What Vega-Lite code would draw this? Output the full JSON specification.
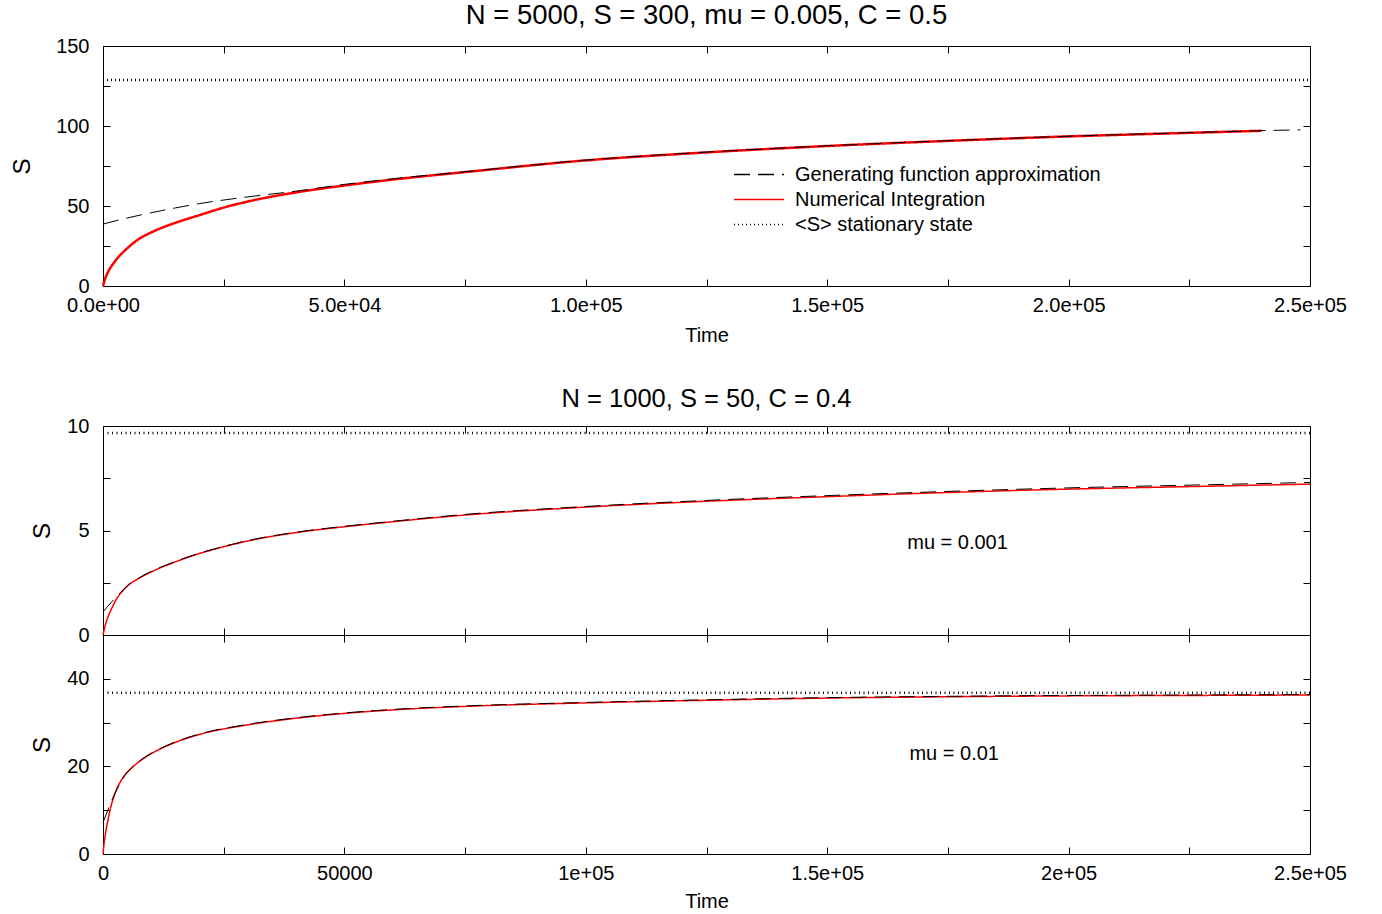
{
"$schema": "https://vega.github.io/schema/vega-lite/v6.json",
"padding": {"left": 9, "top": 1, "right": 10, "bottom": 0},
"background": "white",
"config": {
  "font": "Liberation Sans",
  "view": {"stroke": "#000000", "strokeWidth": 1},
  "axis": {"domain": false, "grid": false, "ticks": true, "tickColor": "#000000", "tickSize": -7, "tickWidth": 1, "labelFont": "Liberation Sans", "labelFontSize": 20, "labelColor": "#000000", "labelFlush": false, "labelOverlap": false, "labelBound": false, "titleFont": "Liberation Sans", "titleFontSize": 20, "titleFontWeight": "normal", "titleColor": "#000000"},
  "title": {"font": "Liberation Sans", "fontSize": 25, "fontWeight": "normal", "color": "#000000", "baseline": "alphabetic"},
  "legend": {"labelFont": "Liberation Sans", "labelFontSize": 20, "labelColor": "#000000"}
},
"datasets": {
  "curves": [
    {"p":"A","series":"Numerical Integration","t":0,"S":0},
    {"p":"A","series":"Numerical Integration","t":500,"S":5},
    {"p":"A","series":"Numerical Integration","t":1000,"S":8.5},
    {"p":"A","series":"Numerical Integration","t":2500,"S":15.5},
    {"p":"A","series":"Numerical Integration","t":5000,"S":23.5},
    {"p":"A","series":"Numerical Integration","t":7500,"S":29.5},
    {"p":"A","series":"Numerical Integration","t":10000,"S":33.5},
    {"p":"A","series":"Numerical Integration","t":15000,"S":39.5},
    {"p":"A","series":"Numerical Integration","t":20000,"S":44.3},
    {"p":"A","series":"Numerical Integration","t":25000,"S":49},
    {"p":"A","series":"Numerical Integration","t":30000,"S":52.8},
    {"p":"A","series":"Numerical Integration","t":40000,"S":58.5},
    {"p":"A","series":"Numerical Integration","t":50000,"S":62.8},
    {"p":"A","series":"Numerical Integration","t":60000,"S":66.5},
    {"p":"A","series":"Numerical Integration","t":75000,"S":71.2},
    {"p":"A","series":"Numerical Integration","t":100000,"S":78.5},
    {"p":"A","series":"Numerical Integration","t":125000,"S":83.5},
    {"p":"A","series":"Numerical Integration","t":150000,"S":87.5},
    {"p":"A","series":"Numerical Integration","t":175000,"S":90.7},
    {"p":"A","series":"Numerical Integration","t":200000,"S":93.5},
    {"p":"A","series":"Numerical Integration","t":220000,"S":95.3},
    {"p":"A","series":"Numerical Integration","t":240000,"S":97},
    {"p":"A","series":"Generating function approximation","t":0,"S":38.7},
    {"p":"A","series":"Generating function approximation","t":5000,"S":42.5},
    {"p":"A","series":"Generating function approximation","t":10000,"S":45.8},
    {"p":"A","series":"Generating function approximation","t":15000,"S":48.8},
    {"p":"A","series":"Generating function approximation","t":20000,"S":51.5},
    {"p":"A","series":"Generating function approximation","t":30000,"S":55.7},
    {"p":"A","series":"Generating function approximation","t":40000,"S":59.3},
    {"p":"A","series":"Generating function approximation","t":50000,"S":63.5},
    {"p":"A","series":"Generating function approximation","t":60000,"S":67},
    {"p":"A","series":"Generating function approximation","t":75000,"S":71.4},
    {"p":"A","series":"Generating function approximation","t":100000,"S":78.7},
    {"p":"A","series":"Generating function approximation","t":125000,"S":83.7},
    {"p":"A","series":"Generating function approximation","t":150000,"S":87.6},
    {"p":"A","series":"Generating function approximation","t":175000,"S":90.8},
    {"p":"A","series":"Generating function approximation","t":200000,"S":93.6},
    {"p":"A","series":"Generating function approximation","t":220000,"S":95.4},
    {"p":"A","series":"Generating function approximation","t":240000,"S":97.1},
    {"p":"A","series":"Generating function approximation","t":248000,"S":97.6},
    {"p":"A","series":"<S> stationary state","t":0,"S":128.7},
    {"p":"A","series":"<S> stationary state","t":250000,"S":128.7},

    {"p":"B","series":"Numerical Integration","t":0,"S":0},
    {"p":"B","series":"Numerical Integration","t":500,"S":0.5},
    {"p":"B","series":"Numerical Integration","t":1000,"S":0.85},
    {"p":"B","series":"Numerical Integration","t":1500,"S":1.12},
    {"p":"B","series":"Numerical Integration","t":2500,"S":1.6},
    {"p":"B","series":"Numerical Integration","t":5000,"S":2.33},
    {"p":"B","series":"Numerical Integration","t":7500,"S":2.72},
    {"p":"B","series":"Numerical Integration","t":10000,"S":3.02},
    {"p":"B","series":"Numerical Integration","t":15000,"S":3.5},
    {"p":"B","series":"Numerical Integration","t":20000,"S":3.9},
    {"p":"B","series":"Numerical Integration","t":25000,"S":4.22},
    {"p":"B","series":"Numerical Integration","t":30000,"S":4.5},
    {"p":"B","series":"Numerical Integration","t":40000,"S":4.9},
    {"p":"B","series":"Numerical Integration","t":50000,"S":5.18},
    {"p":"B","series":"Numerical Integration","t":60000,"S":5.42},
    {"p":"B","series":"Numerical Integration","t":75000,"S":5.74},
    {"p":"B","series":"Numerical Integration","t":100000,"S":6.12},
    {"p":"B","series":"Numerical Integration","t":125000,"S":6.4},
    {"p":"B","series":"Numerical Integration","t":150000,"S":6.62},
    {"p":"B","series":"Numerical Integration","t":175000,"S":6.82},
    {"p":"B","series":"Numerical Integration","t":200000,"S":6.98},
    {"p":"B","series":"Numerical Integration","t":225000,"S":7.1},
    {"p":"B","series":"Numerical Integration","t":250000,"S":7.22},
    {"p":"B","series":"Generating function approximation","t":0,"S":1.1},
    {"p":"B","series":"Generating function approximation","t":1000,"S":1.38},
    {"p":"B","series":"Generating function approximation","t":2000,"S":1.63},
    {"p":"B","series":"Generating function approximation","t":3000,"S":1.88},
    {"p":"B","series":"Generating function approximation","t":5000,"S":2.35},
    {"p":"B","series":"Generating function approximation","t":7500,"S":2.74},
    {"p":"B","series":"Generating function approximation","t":10000,"S":3.04},
    {"p":"B","series":"Generating function approximation","t":15000,"S":3.52},
    {"p":"B","series":"Generating function approximation","t":20000,"S":3.92},
    {"p":"B","series":"Generating function approximation","t":25000,"S":4.24},
    {"p":"B","series":"Generating function approximation","t":30000,"S":4.52},
    {"p":"B","series":"Generating function approximation","t":40000,"S":4.92},
    {"p":"B","series":"Generating function approximation","t":50000,"S":5.2},
    {"p":"B","series":"Generating function approximation","t":60000,"S":5.44},
    {"p":"B","series":"Generating function approximation","t":75000,"S":5.77},
    {"p":"B","series":"Generating function approximation","t":100000,"S":6.15},
    {"p":"B","series":"Generating function approximation","t":125000,"S":6.44},
    {"p":"B","series":"Generating function approximation","t":150000,"S":6.67},
    {"p":"B","series":"Generating function approximation","t":175000,"S":6.87},
    {"p":"B","series":"Generating function approximation","t":200000,"S":7.04},
    {"p":"B","series":"Generating function approximation","t":225000,"S":7.17},
    {"p":"B","series":"Generating function approximation","t":250000,"S":7.3},
    {"p":"B","series":"<S> stationary state","t":0,"S":9.67},
    {"p":"B","series":"<S> stationary state","t":250000,"S":9.67},

    {"p":"C","series":"Numerical Integration","t":0,"S":0},
    {"p":"C","series":"Numerical Integration","t":250,"S":2.6},
    {"p":"C","series":"Numerical Integration","t":500,"S":4.5},
    {"p":"C","series":"Numerical Integration","t":1000,"S":7.6},
    {"p":"C","series":"Numerical Integration","t":1500,"S":10.2},
    {"p":"C","series":"Numerical Integration","t":2500,"S":13.9},
    {"p":"C","series":"Numerical Integration","t":4000,"S":17.2},
    {"p":"C","series":"Numerical Integration","t":6000,"S":19.7},
    {"p":"C","series":"Numerical Integration","t":8000,"S":21.5},
    {"p":"C","series":"Numerical Integration","t":10000,"S":22.9},
    {"p":"C","series":"Numerical Integration","t":15000,"S":25.5},
    {"p":"C","series":"Numerical Integration","t":20000,"S":27.3},
    {"p":"C","series":"Numerical Integration","t":30000,"S":29.5},
    {"p":"C","series":"Numerical Integration","t":40000,"S":31},
    {"p":"C","series":"Numerical Integration","t":50000,"S":32.1},
    {"p":"C","series":"Numerical Integration","t":60000,"S":32.9},
    {"p":"C","series":"Numerical Integration","t":75000,"S":33.7},
    {"p":"C","series":"Numerical Integration","t":100000,"S":34.5},
    {"p":"C","series":"Numerical Integration","t":125000,"S":35.1},
    {"p":"C","series":"Numerical Integration","t":150000,"S":35.6},
    {"p":"C","series":"Numerical Integration","t":175000,"S":35.9},
    {"p":"C","series":"Numerical Integration","t":200000,"S":36.1},
    {"p":"C","series":"Numerical Integration","t":225000,"S":36.2},
    {"p":"C","series":"Numerical Integration","t":250000,"S":36.3},
    {"p":"C","series":"Generating function approximation","t":0,"S":7.2},
    {"p":"C","series":"Generating function approximation","t":1000,"S":10},
    {"p":"C","series":"Generating function approximation","t":2000,"S":12.7},
    {"p":"C","series":"Generating function approximation","t":3000,"S":15},
    {"p":"C","series":"Generating function approximation","t":4000,"S":17.1},
    {"p":"C","series":"Generating function approximation","t":6000,"S":19.8},
    {"p":"C","series":"Generating function approximation","t":8000,"S":21.6},
    {"p":"C","series":"Generating function approximation","t":10000,"S":23},
    {"p":"C","series":"Generating function approximation","t":15000,"S":25.6},
    {"p":"C","series":"Generating function approximation","t":20000,"S":27.4},
    {"p":"C","series":"Generating function approximation","t":30000,"S":29.6},
    {"p":"C","series":"Generating function approximation","t":40000,"S":31.1},
    {"p":"C","series":"Generating function approximation","t":50000,"S":32.2},
    {"p":"C","series":"Generating function approximation","t":60000,"S":33},
    {"p":"C","series":"Generating function approximation","t":75000,"S":33.8},
    {"p":"C","series":"Generating function approximation","t":100000,"S":34.6},
    {"p":"C","series":"Generating function approximation","t":125000,"S":35.2},
    {"p":"C","series":"Generating function approximation","t":150000,"S":35.7},
    {"p":"C","series":"Generating function approximation","t":175000,"S":36},
    {"p":"C","series":"Generating function approximation","t":200000,"S":36.2},
    {"p":"C","series":"Generating function approximation","t":225000,"S":36.3},
    {"p":"C","series":"Generating function approximation","t":250000,"S":36.4},
    {"p":"C","series":"<S> stationary state","t":0,"S":36.8},
    {"p":"C","series":"<S> stationary state","t":250000,"S":36.8}
  ]
},
"spacing": 40,
"resolve": {"scale": {"color": "independent", "strokeDash": "independent", "strokeWidth": "independent"}},
"vconcat": [
  {
    "width": 1207, "height": 240,
    "title": {"text": "N = 5000, S = 300, mu = 0.005, C = 0.5", "offset": 7, "fontSize": 27.5},
    "data": {"name": "curves"},
    "transform": [{"filter": "datum.p == 'A'"}],
    "layer": [
      {
        "transform": [{"filter": "datum.series != '<S> stationary state'"}],
        "mark": {"type": "line", "interpolate": "monotone"},
        "encoding": {
          "x": {"field": "t", "type": "quantitative", "scale": {"domain": [0, 250000], "nice": false, "zero": false},
                "axis": {"orient": "bottom", "values": [0,25000,50000,75000,100000,125000,150000,175000,200000,225000,250000], "labelExpr": "datum.value % 50000 == 0 ? replace(format(datum.value, '.1e'), 'e+', 'e+0') : ''", "labelBaseline": "alphabetic", "labelPadding": 32, "title": "Time", "titleY": 55, "titleBaseline": "alphabetic"}},
          "y": {"field": "S", "type": "quantitative", "scale": {"domain": [0, 150], "nice": false},
                "axis": {"orient": "left", "values": [0,25,50,75,100,125,150], "labelExpr": "datum.value % 50 == 0 ? datum.label : ''", "labelPadding": 21, "title": "S", "titleFontSize": 24, "titleX": -81, "titleY": 120, "titleBaseline": "middle"}},
          "color": {"field": "series", "type": "nominal", "scale": {"domain": ["Generating function approximation", "Numerical Integration", "<S> stationary state"], "range": ["#000000", "#ff0000", "#000000"]},
                    "legend": {"orient": "none", "legendX": 630, "legendY": 116, "title": null, "symbolType": "stroke", "symbolSize": 2500, "symbolStrokeWidth": 1.6, "labelFontSize": 20, "labelOffset": 10, "labelLimit": 0, "rowPadding": 0, "clipHeight": 25}},
          "strokeDash": {"field": "series", "type": "nominal", "scale": {"domain": ["Generating function approximation", "Numerical Integration", "<S> stationary state"], "range": [[16, 8], [1, 0], [1, 3]]}},
          "strokeWidth": {"field": "series", "type": "nominal", "scale": {"type": "ordinal", "domain": ["Generating function approximation", "Numerical Integration", "<S> stationary state"], "range": [1, 2.5, 1]}, "legend": null}
        }
      },
      {
        "transform": [{"filter": "datum.series == '<S> stationary state'"}],
        "mark": {"type": "line"},
        "encoding": {
          "x": {"field": "t", "type": "quantitative", "scale": {"domain": [0, 250000], "nice": false, "zero": false},
                "axis": {"orient": "top", "values": [0,25000,50000,75000,100000,125000,150000,175000,200000,225000,250000], "labels": false, "title": null}},
          "y": {"field": "S", "type": "quantitative", "scale": {"domain": [0, 150], "nice": false},
                "axis": {"orient": "right", "values": [0,25,50,75,100,125,150], "labels": false, "title": null}},
          "color": {"field": "series", "type": "nominal", "legend": null},
          "strokeDash": {"field": "series", "type": "nominal", "legend": null},
          "strokeWidth": {"field": "series", "type": "nominal", "legend": null}
        }
      }
    ]
  },
  {
    "spacing": 0,
    "bounds": "flush",
    "resolve": {"scale": {"color": "independent", "strokeDash": "independent", "strokeWidth": "independent"}},
    "vconcat": [
      {
        "width": 1207, "height": 209,
        "title": {"text": "N = 1000, S = 50, C = 0.4", "offset": 4, "fontSize": 25.5},
        "data": {"name": "curves"},
        "transform": [{"filter": "datum.p == 'B'"}],
        "layer": [
          {
            "transform": [{"filter": "datum.series != '<S> stationary state'"}],
            "mark": {"type": "line", "interpolate": "monotone"},
            "encoding": {
              "x": {"field": "t", "type": "quantitative", "scale": {"domain": [0, 250000], "nice": false, "zero": false},
                    "axis": {"orient": "bottom", "values": [0,25000,50000,75000,100000,125000,150000,175000,200000,225000,250000], "labels": false, "title": null}},
              "y": {"field": "S", "type": "quantitative", "scale": {"domain": [0, 10], "nice": false},
                    "axis": {"orient": "left", "values": [0,2.5,5,7.5,10], "labelExpr": "datum.value % 5 == 0 ? datum.label : ''", "labelPadding": 21, "title": "S", "titleFontSize": 24, "titleX": -61, "titleY": 104.5, "titleBaseline": "middle"}},
              "color": {"field": "series", "type": "nominal", "scale": {"domain": ["Generating function approximation", "Numerical Integration", "<S> stationary state"], "range": ["#000000", "#ff0000", "#000000"]}, "legend": null},
              "strokeDash": {"field": "series", "type": "nominal", "scale": {"domain": ["Generating function approximation", "Numerical Integration", "<S> stationary state"], "range": [[16, 8], [1, 0], [1, 3.5]]}, "legend": null},
              "strokeWidth": {"field": "series", "type": "nominal", "scale": {"type": "ordinal", "domain": ["Generating function approximation", "Numerical Integration", "<S> stationary state"], "range": [1, 1.5, 1]}, "legend": null}
            }
          },
          {
            "transform": [{"filter": "datum.series == '<S> stationary state'"}],
            "mark": {"type": "line"},
            "encoding": {
              "x": {"field": "t", "type": "quantitative", "scale": {"domain": [0, 250000], "nice": false, "zero": false},
                    "axis": {"orient": "top", "values": [0,25000,50000,75000,100000,125000,150000,175000,200000,225000,250000], "labels": false, "title": null}},
              "y": {"field": "S", "type": "quantitative", "scale": {"domain": [0, 10], "nice": false},
                    "axis": {"orient": "right", "values": [0,2.5,5,7.5,10], "labels": false, "title": null}},
              "color": {"field": "series", "type": "nominal", "legend": null},
              "strokeDash": {"field": "series", "type": "nominal", "legend": null},
              "strokeWidth": {"field": "series", "type": "nominal", "legend": null}
            }
          },
          {
            "data": {"values": [{"label": "mu = 0.001"}]},
            "mark": {"type": "text", "fontSize": 20, "font": "Liberation Sans", "color": "#000000"},
            "encoding": {
              "x": {"datum": 177000, "type": "quantitative", "axis": null},
              "y": {"datum": 4.4, "type": "quantitative", "axis": null},
              "text": {"field": "label"}
            }
          }
        ]
      },
      {
        "width": 1207, "height": 219,
        "data": {"name": "curves"},
        "transform": [{"filter": "datum.p == 'C'"}],
        "layer": [
          {
            "transform": [{"filter": "datum.series != '<S> stationary state'"}],
            "mark": {"type": "line", "interpolate": "monotone"},
            "encoding": {
              "x": {"field": "t", "type": "quantitative", "scale": {"domain": [0, 250000], "nice": false, "zero": false},
                    "axis": {"orient": "bottom", "values": [0,25000,50000,75000,100000,125000,150000,175000,200000,225000,250000], "labelExpr": "datum.value % 50000 != 0 ? '' : (datum.value < 100000 ? format(datum.value, 'd') : replace(format(datum.value, '~e'), 'e+', 'e+0'))", "labelBaseline": "alphabetic", "labelPadding": 32, "title": "Time", "titleY": 53, "titleBaseline": "alphabetic"}},
              "y": {"field": "S", "type": "quantitative", "scale": {"domain": [0, 50], "nice": false},
                    "axis": {"orient": "left", "values": [0,10,20,30,40,50], "labelExpr": "datum.value % 20 == 0 && datum.value < 50 ? datum.label : ''", "labelPadding": 21, "title": "S", "titleFontSize": 24, "titleX": -61, "titleY": 109.5, "titleBaseline": "middle"}},
              "color": {"field": "series", "type": "nominal", "scale": {"domain": ["Generating function approximation", "Numerical Integration", "<S> stationary state"], "range": ["#000000", "#ff0000", "#000000"]}, "legend": null},
              "strokeDash": {"field": "series", "type": "nominal", "scale": {"domain": ["Generating function approximation", "Numerical Integration", "<S> stationary state"], "range": [[16, 8], [1, 0], [1, 3.5]]}, "legend": null},
              "strokeWidth": {"field": "series", "type": "nominal", "scale": {"type": "ordinal", "domain": ["Generating function approximation", "Numerical Integration", "<S> stationary state"], "range": [1, 1.5, 1]}, "legend": null}
            }
          },
          {
            "transform": [{"filter": "datum.series == '<S> stationary state'"}],
            "mark": {"type": "line"},
            "encoding": {
              "x": {"field": "t", "type": "quantitative", "scale": {"domain": [0, 250000], "nice": false, "zero": false},
                    "axis": {"orient": "top", "values": [0,25000,50000,75000,100000,125000,150000,175000,200000,225000,250000], "labels": false, "title": null}},
              "y": {"field": "S", "type": "quantitative", "scale": {"domain": [0, 50], "nice": false},
                    "axis": {"orient": "right", "values": [0,10,20,30,40,50], "labels": false, "title": null}},
              "color": {"field": "series", "type": "nominal", "legend": null},
              "strokeDash": {"field": "series", "type": "nominal", "legend": null},
              "strokeWidth": {"field": "series", "type": "nominal", "legend": null}
            }
          },
          {
            "data": {"values": [{"label": "mu = 0.01"}]},
            "mark": {"type": "text", "fontSize": 20, "font": "Liberation Sans", "color": "#000000"},
            "encoding": {
              "x": {"datum": 176300, "type": "quantitative", "axis": null},
              "y": {"datum": 22.8, "type": "quantitative", "axis": null},
              "text": {"field": "label"}
            }
          }
        ]
      }
    ]
  }
]
}
